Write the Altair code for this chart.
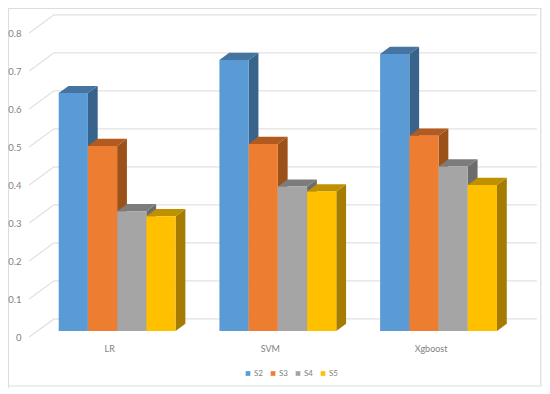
import altair as alt
import pandas as pd

categories = ["LR", "SVM", "Xgboost"]
series = ["S2", "S3", "S4", "S5"]
s2 = [0.626, 0.713, 0.729]
s3 = [0.487, 0.492, 0.514]
s4 = [0.315, 0.380, 0.433]
s5 = [0.302, 0.367, 0.384]
values = [s2, s3, s4, s5]
ticks = [0, 0.1, 0.2, 0.3, 0.4, 0.5, 0.6, 0.7, 0.8]

front_colors = ["#5B9BD5", "#ED7D31", "#A5A5A5", "#FFC000"]
side_colors = ["#38638A", "#9C5118", "#6C6C6C", "#A67C00"]
top_colors = ["#44749F", "#B25A1F", "#7C7C7C", "#BF9000"]

# Chart geometry in scale units: one bar is one x unit wide.
PITCH = 5.5
DX, DY = 0.335, 0.019
BACK_X0, BACK_X1 = -0.16, 16.36
SLANT_X0, SLANT_Y0 = -1.006, -0.0158
BACK_LIFT = 0.032
x_scale = alt.Scale(domain=[-1.735, 16.54], range=[0, 534], nice=False, zero=False)
y_scale = alt.Scale(domain=[-0.1447, 0.85], range=[378, 0], nice=False, zero=False)

front, side, top = [], [], []
for si, name in enumerate(series):
    for ci, cat in enumerate(categories):
        v = values[si][ci]
        xl = ci * PITCH + si
        xr = xl + 1
        key = f"{name}-{cat}"
        front.append(dict(series=name, category=cat, x=xl, x2=xr, y=0, y2=v))
        side += [
            dict(key=key, shade=side_colors[si], x=xr, y=v, y2=0),
            dict(key=key, shade=side_colors[si], x=xr + DX, y=v + DY, y2=DY),
        ]
        top += [
            dict(key=key, shade=top_colors[si], y=v, x=xl, x2=xr),
            dict(key=key, shade=top_colors[si], y=v + DY, x=xl + DX, x2=xr + DX),
        ]

grid = []
for t in ticks:
    grid += [
        dict(line=f"b{t}", x=BACK_X0, y=t + BACK_LIFT, order=0),
        dict(line=f"b{t}", x=BACK_X1, y=t + BACK_LIFT, order=1),
        dict(line=f"s{t}", x=SLANT_X0, y=t + SLANT_Y0, order=0),
        dict(line=f"s{t}", x=BACK_X0, y=t + BACK_LIFT, order=1),
    ]

frame = [dict(x=-1.72, x2=16.50, y=-0.1447, y2=0.849)]

centers = [i * PITCH + 2 for i in range(len(categories))]
label_expr = "['LR','SVM','Xgboost'][round((datum.value-2)/%s)]" % PITCH

FONT = "Lato"
GREY = "#7F7F7F"

x_axis = alt.Axis(
    values=centers,
    labelExpr=label_expr,
    offset=-44,
    labelPadding=0,
    labelOffset=-8,
    ticks=False,
    domain=False,
    grid=False,
    labelFont=FONT,
    labelFontSize=9,
    labelColor=GREY,
    labelFlush=False,
    labelOverlap=False,
    title=None,
    zindex=1,
)
y_axis = alt.Axis(
    values=ticks,
    format="~g",
    offset=-13,
    labelPadding=0,
    labelOffset=6,
    ticks=False,
    domain=False,
    grid=False,
    labelFont=FONT,
    labelFontSize=9.5,
    labelColor=GREY,
    labelFlush=False,
    labelOverlap=False,
    title=None,
    zindex=1,
)

frame_layer = (
    alt.Chart(pd.DataFrame(frame))
    .mark_rect(filled=False, stroke="#DDDDDD", strokeWidth=1.2)
    .encode(
        x=alt.X("x:Q", scale=x_scale, axis=x_axis),
        x2="x2:Q",
        y=alt.Y("y:Q", scale=y_scale, axis=y_axis),
        y2="y2:Q",
    )
)

grid_layer = (
    alt.Chart(pd.DataFrame(grid))
    .mark_line(color="#E2E2E2", strokeWidth=1.3)
    .encode(
        x=alt.X("x:Q", scale=x_scale, axis=x_axis),
        y=alt.Y("y:Q", scale=y_scale, axis=y_axis),
        detail="line:N",
        order="order:Q",
    )
)

side_layer = (
    alt.Chart(pd.DataFrame(side))
    .mark_area(orient="vertical", opacity=1)
    .encode(
        x=alt.X("x:Q", scale=x_scale, axis=x_axis),
        y=alt.Y("y:Q", scale=y_scale, axis=y_axis, stack=None),
        y2="y2:Q",
        detail="key:N",
        color=alt.Color("shade:N", scale=None, legend=None),
    )
)

top_layer = (
    alt.Chart(pd.DataFrame(top))
    .mark_area(orient="horizontal", opacity=1)
    .encode(
        y=alt.Y("y:Q", scale=y_scale, axis=y_axis),
        x=alt.X("x:Q", scale=x_scale, axis=x_axis, stack=None),
        x2="x2:Q",
        detail="key:N",
        color=alt.Color("shade:N", scale=None, legend=None),
    )
)

front_layer = (
    alt.Chart(pd.DataFrame(front))
    .mark_rect(opacity=1)
    .encode(
        x=alt.X("x:Q", scale=x_scale, axis=x_axis),
        x2="x2:Q",
        y=alt.Y("y:Q", scale=y_scale, axis=y_axis),
        y2="y2:Q",
        color=alt.Color(
            "series:N",
            scale=alt.Scale(domain=series, range=front_colors),
            legend=alt.Legend(
                title=None,
                orient="none",
                direction="horizontal",
                legendX=236,
                legendY=361.5,
                symbolType="square",
                symbolSize=22,
                symbolStrokeWidth=0,
                labelFont=FONT,
                labelFontSize=8,
                labelColor=GREY,
                labelOffset=2,
                columnPadding=6,
            ),
        ),
    )
)

chart = (
    alt.layer(frame_layer, grid_layer, side_layer, top_layer, front_layer)
    .resolve_scale(color="independent")
    .properties(
        width=534,
        height=380,
        padding=0,
        autosize=alt.AutoSizeParams(type="none"),
    )
    .configure_view(stroke=None)
    .configure(background="#FFFFFF")
)

chart.save("out.html", embed_options={"renderer": "svg", "actions": False})
